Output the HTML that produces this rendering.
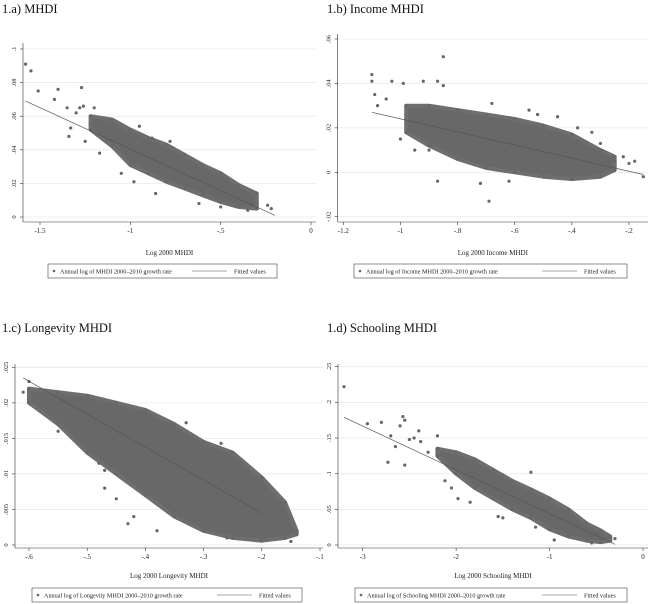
<!DOCTYPE html>
<html><head><meta charset="utf-8"><style>
html,body{margin:0;padding:0;background:#fff;}
svg{display:block;font-family:"Liberation Serif",serif;}
</style></head><body>
<svg id="fig" width="650" height="604" viewBox="0 0 650 604" xmlns="http://www.w3.org/2000/svg"></svg>
<script>
// ---- Panel a: MHDI ----
const aXTicks = [-1.5, -1, -0.5, 0];
const aXTickLabels = ["-1.5", "-1", "-.5", "0"];
const aYTicks = [0, 0.02, 0.04, 0.06, 0.08, 0.1];
const aYTickLabels = ["0", ".02", ".04", ".06", ".08", ".1"];
const aBandX = [-1.22, -1.1, -1.0, -0.9, -0.8, -0.7, -0.6, -0.5, -0.4, -0.3];
const aBandUpper = [0.060, 0.058, 0.052, 0.047, 0.043, 0.037, 0.031, 0.026, 0.019, 0.014];
const aBandLower = [0.052, 0.042, 0.031, 0.026, 0.021, 0.017, 0.013, 0.009, 0.006, 0.005];
const aOutX = [-1.58,-1.55,-1.51,-1.42,-1.4,-1.27,-1.35,-1.33,-1.34,-1.3,-1.28,-1.26,-1.2,-1.25,-1.17,-1.05,-0.98,-0.86,-0.62,-0.5,-0.35,-0.24,-0.22,-0.95,-0.88,-0.78,-1.22,-1.1];
const aOutY = [0.091,0.087,0.075,0.070,0.076,0.077,0.065,0.053,0.048,0.062,0.065,0.066,0.065,0.045,0.038,0.026,0.021,0.014,0.008,0.006,0.004,0.007,0.005,0.054,0.047,0.045,0.055,0.05];
const aFitX = [-1.58, -0.2];
const aFitY = [0.069, 0.001];

// ---- Panel b: Income MHDI ----
const bXTicks = [-1.2, -1, -0.8, -0.6, -0.4, -0.2];
const bXTickLabels = ["-1.2", "-1", "-.8", "-.6", "-.4", "-.2"];
const bYTicks = [-0.02, 0, 0.02, 0.04, 0.06];
const bYTickLabels = ["-.02", "0", ".02", ".04", ".06"];
const bBandX = [-0.98, -0.9, -0.8, -0.7, -0.6, -0.5, -0.4, -0.3, -0.25];
const bBandUpper = [0.030, 0.030, 0.028, 0.026, 0.024, 0.021, 0.017, 0.010, 0.007];
const bBandLower = [0.018, 0.012, 0.006, 0.002, 0.000, -0.002, -0.003, -0.002, 0.001];
const bOutX = [-1.1,-1.1,-1.03,-0.85,-0.92,-0.87,-0.85,-0.95,-0.9,-0.87,-0.72,-0.69,-1.08,-1.09,-1.05,-0.2,-0.18,-0.15,-0.22,-0.25,-1.0,-0.97,-0.68,-0.55,-0.52,-0.45,-0.38,-0.3,-0.33,-0.99,-0.62];
const bOutY = [0.044,0.041,0.041,0.052,0.041,0.041,0.039,0.010,0.010,-0.004,-0.005,-0.013,0.030,0.035,0.033,0.004,0.005,-0.002,0.007,0.005,0.015,0.019,0.031,0.028,0.026,0.025,0.020,0.013,0.018,0.040,-0.004];
const bFitX = [-1.1, -0.15];
const bFitY = [0.027, -0.001];

// ---- Panel c: Longevity MHDI ----
const cXTicks = [-0.6, -0.5, -0.4, -0.3, -0.2, -0.1];
const cXTickLabels = ["-.6", "-.5", "-.4", "-.3", "-.2", "-.1"];
const cYTicks = [0, 0.005, 0.01, 0.015, 0.02, 0.025];
const cYTickLabels = ["0", ".005", ".01", ".015", ".02", ".025"];
const cBandX = [-0.6, -0.55, -0.5, -0.45, -0.4, -0.35, -0.3, -0.25, -0.2, -0.16, -0.14];
const cBandUpper = [0.022, 0.0215, 0.021, 0.020, 0.019, 0.017, 0.0145, 0.013, 0.0095, 0.006, 0.002];
const cBandLower = [0.020, 0.017, 0.013, 0.010, 0.007, 0.004, 0.002, 0.001, 0.0006, 0.001, 0.0015];
const cOutX = [-0.61,-0.6,-0.55,-0.48,-0.47,-0.43,-0.45,-0.47,-0.33,-0.27,-0.15,-0.26,-0.42,-0.38,-0.52,-0.58];
const cOutY = [0.0215,0.023,0.016,0.0115,0.008,0.003,0.0065,0.0105,0.0172,0.0143,0.0005,0.001,0.004,0.002,0.0155,0.0195];
const cFitX = [-0.61, -0.2];
const cFitY = [0.0235, 0.0045];

// ---- Panel d: Schooling MHDI ----
const dXTicks = [-3, -2, -1, 0];
const dXTickLabels = ["-3", "-2", "-1", "0"];
const dYTicks = [0, 0.05, 0.1, 0.15, 0.2, 0.25];
const dYTickLabels = ["0", ".05", ".1", ".15", ".2", ".25"];
const dBandX = [-2.2, -2.0, -1.8, -1.6, -1.4, -1.2, -1.0, -0.8, -0.6, -0.45, -0.35];
const dBandUpper = [0.135, 0.130, 0.120, 0.105, 0.090, 0.078, 0.065, 0.050, 0.030, 0.020, 0.012];
const dBandLower = [0.125, 0.100, 0.080, 0.065, 0.050, 0.038, 0.022, 0.012, 0.006, 0.004, 0.006];
const dOutX = [-3.2,-2.95,-2.8,-2.57,-2.55,-2.6,-2.4,-2.7,-2.65,-2.73,-2.55,-2.5,-2.45,-2.3,-2.2,-2.12,-2.05,-1.98,-1.85,-1.55,-1.5,-1.15,-0.95,-0.55,-0.3,-1.2,-1.5,-1.8,-0.8,-2.38];
const dOutY = [0.222,0.170,0.172,0.180,0.175,0.167,0.160,0.153,0.138,0.116,0.112,0.148,0.150,0.130,0.153,0.090,0.080,0.065,0.060,0.040,0.038,0.025,0.007,0.003,0.009,0.102,0.098,0.112,0.047,0.145];
const dFitX = [-3.2, -0.3];
const dFitY = [0.179, 0.001];

const NS = "http://www.w3.org/2000/svg";
const svg = document.getElementById("fig");
function mk(tag, attrs, parent) {
  const e = document.createElementNS(NS, tag);
  for (const k in attrs) e.setAttribute(k, attrs[k]);
  (parent || svg).appendChild(e);
  return e;
}

const panels = [
  {id:"a", title:"1.a) MHDI", titleY:13, xlab:"Log 2000 MHDI", xlabY:255,
   left:23, right:316, top:43, axisY:222,
   xv0:-1.5, xp0:40, xv1:0, xp1:311, yv0:0, yp0:217, yv1:0.1, yp1:49,
   legend:{x:48,y:264,w:229,h:14}, legText:"Annual log of MHDI 2000\u20132010 growth rate",
   xt:aXTicks, xtl:aXTickLabels, yt:aYTicks, ytl:aYTickLabels,
   bx:aBandX, bu:aBandUpper, bl:aBandLower, ox:aOutX, oy:aOutY, fx:aFitX, fy:aFitY},
  {id:"b", title:"1.b) Income MHDI", titleY:13, xlab:"Log 2000 Income MHDI", xlabY:255,
   left:337.7, right:648, top:34, axisY:222,
   xv0:-1.2, xp0:343.3, xv1:-0.2, xp1:629, yv0:0, yp0:172.3, yv1:0.06, yp1:39,
   legend:{x:354,y:264,w:273,h:14}, legText:"Annual log of Income MHDI 2000\u20132010 growth rate",
   xt:bXTicks, xtl:bXTickLabels, yt:bYTicks, ytl:bYTickLabels,
   bx:bBandX, bu:bBandUpper, bl:bBandLower, ox:bOutX, oy:bOutY, fx:bFitX, fy:bFitY},
  {id:"c", title:"1.c) Longevity MHDI", titleY:332, xlab:"Log 2000 Longevity MHDI", xlabY:578,
   left:15, right:323, top:364, axisY:548,
   xv0:-0.6, xp0:29, xv1:-0.1, xp1:320, yv0:0, yp0:545, yv1:0.025, yp1:367.3,
   legend:{x:32,y:588,w:270,h:14}, legText:"Annual log of Longevity MHDI 2000\u20132010 growth rate",
   xt:cXTicks, xtl:cXTickLabels, yt:cYTicks, ytl:cYTickLabels,
   bx:cBandX, bu:cBandUpper, bl:cBandLower, ox:cOutX, oy:cOutY, fx:cFitX, fy:cFitY},
  {id:"d", title:"1.d) Schooling MHDI", titleY:332, xlab:"Log 2000 Schooling MHDI", xlabY:578,
   left:338, right:648, top:364, axisY:548,
   xv0:-3, xp0:362.7, xv1:0, xp1:643, yv0:0, yp0:545, yv1:0.25, yp1:366.7,
   legend:{x:355,y:588,w:272,h:14}, legText:"Annual log of Schooling MHDI 2000\u20132010 growth rate",
   xt:dXTicks, xtl:dXTickLabels, yt:dYTicks, ytl:dYTickLabels,
   bx:dBandX, bu:dBandUpper, bl:dBandLower, ox:dOutX, oy:dOutY, fx:dFitX, fy:dFitY}
];

panels.forEach(p => {
  const X = v => p.xp0 + (v - p.xv0) * (p.xp1 - p.xp0) / (p.xv1 - p.xv0);
  const Y = v => p.yp0 + (v - p.yv0) * (p.yp1 - p.yp0) / (p.yv1 - p.yv0);
  const g = mk("g", {});
  
  

  const t = mk("text", {x: p.id === "a" || p.id === "c" ? 2 : 327, y: p.titleY, "font-size": 12.5, fill: "#111"}, g);
  t.textContent = p.title;
  
  

  p.yt.forEach((v, i) => {
    const gl = mk("line", {x1: p.left, x2: p.right, y1: Y(v), y2: Y(v), stroke: "#eaeaea", "stroke-width": 0.8}, g);
    
    
    const tk = mk("line", {x1: p.left - 3, x2: p.left, y1: Y(v), y2: Y(v), stroke: "#333", "stroke-width": 0.6}, g);
    
    
    const lx = p.left - 7, ly = Y(v);
    const tl = mk("text", {x: lx, y: ly, "font-size": 6.5, fill: "#222", "text-anchor": "middle", transform: `rotate(-90 ${lx} ${ly})`}, g);
    tl.textContent = p.ytl[i];
    
    
  });
  const ya = mk("line", {x1: p.left, x2: p.left, y1: p.top, y2: p.axisY, stroke: "#333", "stroke-width": 0.6}, g);
  
  
  const xa = mk("line", {x1: p.left, x2: p.right, y1: p.axisY, y2: p.axisY, stroke: "#333", "stroke-width": 0.6}, g);
  
  
  p.xt.forEach((v, i) => {
    const tk = mk("line", {x1: X(v), x2: X(v), y1: p.axisY, y2: p.axisY + 3, stroke: "#333", "stroke-width": 0.6}, g);
    
    
    const tl = mk("text", {x: X(v), y: p.axisY + 11, "font-size": 7, fill: "#222", "text-anchor": "middle"}, g);
    tl.textContent = p.xtl[i];
    
    
  });
  const xl = mk("text", {x: (p.left + p.right) / 2, y: p.xlabY, "font-size": 7, fill: "#222", "text-anchor": "middle"}, g);
  xl.textContent = p.xlab;
  
  

  let d = "";
  p.bx.forEach((v, i) => { d += (i ? "L" : "M") + X(v).toFixed(1) + "," + Y(p.bu[i]).toFixed(1); });
  for (let i = p.bx.length - 1; i >= 0; i--) d += "L" + X(p.bx[i]).toFixed(1) + "," + Y(p.bl[i]).toFixed(1);
  d += "Z";
  const band = mk("path", {d: d, fill: "#686868", stroke: "#6e6e6e", "stroke-width": 4, "stroke-linejoin": "round"}, g);
  
  
  p.bx.forEach((v, i) => {
    [p.bu[i], p.bl[i]].forEach(yv => {
      const c = mk("circle", {cx: X(v), cy: Y(yv), r: 1.6, fill: "#666"}, g);
      
      
    });
  });
  p.ox.forEach((v, i) => {
    const c = mk("circle", {cx: X(v), cy: Y(p.oy[i]), r: 1.6, fill: "#666"}, g);
    
    
  });
  const fl = mk("line", {x1: X(p.fx[0]), y1: Y(p.fy[0]), x2: X(p.fx[1]), y2: Y(p.fy[1]), stroke: "#555", "stroke-width": 0.7}, g);
  
  

  const L = p.legend;
  const lg = mk("g", {}, g);
  
  
  mk("rect", {x: L.x, y: L.y, width: L.w, height: L.h, fill: "#fff", stroke: "#444", "stroke-width": 0.6}, lg);
  const ld = mk("circle", {cx: L.x + 6, cy: L.y + L.h / 2, r: 1.3, fill: "#666"}, lg);
  
  
  const lt = mk("text", {x: L.x + 12, y: L.y + L.h / 2 + 2.3, "font-size": 6.2, fill: "#222"}, lg);
  lt.textContent = p.legText;
  
  
  const ll = mk("line", {x1: L.x + L.w - 85, x2: L.x + L.w - 50, y1: L.y + L.h / 2, y2: L.y + L.h / 2, stroke: "#555", "stroke-width": 0.6}, lg);
  
  
  const lt2 = mk("text", {x: L.x + L.w - 43, y: L.y + L.h / 2 + 2.3, "font-size": 6.2, fill: "#222"}, lg);
  lt2.textContent = "Fitted values";
  
  
});
</script>
</body></html>
